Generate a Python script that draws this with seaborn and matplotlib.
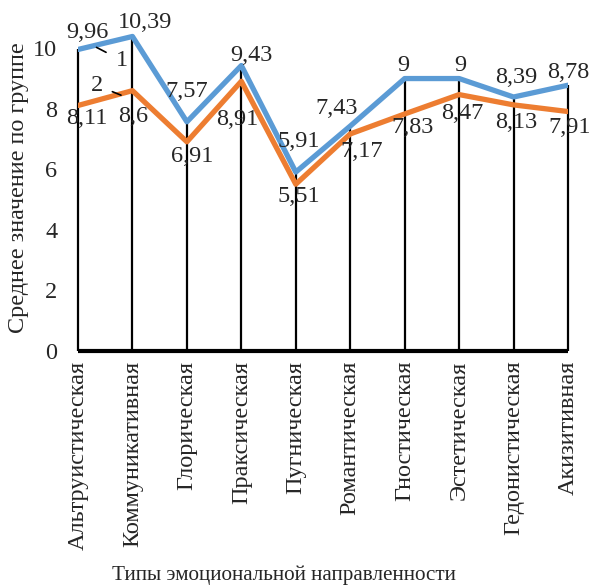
import numpy as np
import pandas as pd
import seaborn as sns
import matplotlib
matplotlib.use("Agg")
import matplotlib.pyplot as plt

# data
categories = ["Альтруистическая", "Коммуникативная", "Глорическая", "Праксическая",
              "Пугническая", "Романтическая", "Гностическая", "Эстетическая",
              "Гедонистическая", "Акизитивная"]
group1 = [9.96, 10.39, 7.57, 9.43, 5.91, 7.43, 9, 9, 8.39, 8.78]
group2 = [8.11, 8.6, 6.91, 8.91, 5.51, 7.17, 7.83, 8.47, 8.13, 7.91]

# label offsets in pixels (placement only)
off1 = [(9, 17), (13, 14), (0, 30), (10, 10), (3, 31), (-14, 18), (-1, 13), (1, 13), (3, 20), (0, 13)]
off2 = [(9, -13), (1, -26), (5, -15), (-4, -38), (3, -12), (11, -18), (8, -14), (3, -19), (3, -18), (2, -16)]

sns.set_style("white")
plt.rcParams['font.family'] = ['Liberation Serif', 'DejaVu Serif']

df = pd.DataFrame({"pos": np.arange(len(categories)), "g1": group1, "g2": group2})

fig = plt.figure(figsize=(5.92, 5.86), dpi=100)
ax = fig.add_axes([78 / 592, (586 - 351) / 586, 490 / 592, 333 / 586])

# drop lines from the higher series down to zero
ax.vlines(df["pos"], 0, df[["g1", "g2"]].max(axis=1), color="black", lw=1.6,
          zorder=1, clip_on=False)

sns.lineplot(data=df, x="pos", y="g2", color="#ED7D31", lw=3.8, ax=ax, zorder=2)
sns.lineplot(data=df, x="pos", y="g1", color="#5B9BD5", lw=3.8, ax=ax, zorder=3)

ax.plot([0, len(categories) - 1], [0, 0], color="black", lw=3, clip_on=False,
        solid_capstyle="butt", zorder=4)

def fmt(v):
    return ("%g" % v).replace(".", ",")

lab_fs = 17.5
for i, v in enumerate(group1):
    ax.annotate(fmt(v), (i, v), xytext=off1[i], textcoords="offset pixels",
                ha="center", va="center", fontsize=lab_fs, annotation_clip=False)
for i, v in enumerate(group2):
    ax.annotate(fmt(v), (i, v), xytext=off2[i], textcoords="offset pixels",
                ha="center", va="center", fontsize=lab_fs, annotation_clip=False)

# series markers "1" and "2" with leader lines
ax.annotate("1", xy=(0.34, 10.03), xytext=(0.8, 9.6), ha="center", va="center", fontsize=lab_fs,
            arrowprops=dict(arrowstyle="-", color="black", lw=1.2, shrinkA=5, shrinkB=0))
ax.annotate("2", xy=(0.79, 8.45), xytext=(0.34, 8.78), ha="center", va="center", fontsize=lab_fs,
            arrowprops=dict(arrowstyle="-", color="black", lw=1.2, shrinkA=5, shrinkB=0))

ax.set_xlim(0, len(categories) - 1)
ax.set_ylim(0, 11)
ax.set_yticks([0, 2, 4, 6, 8, 10])
ax.set_xticks(range(len(categories)))
ax.set_xticklabels(categories, rotation=90)
ax.tick_params(axis="both", length=0, labelsize=17.5)
ax.tick_params(axis="y", pad=15)
ax.tick_params(axis="x", pad=7)
for s in ax.spines.values():
    s.set_visible(False)

ax.set_xlabel("Типы эмоциональной направленности", fontsize=15.2)
ax.set_ylabel("Среднее значение по группе", fontsize=17.4)
ax.xaxis.set_label_coords(0.42, -0.645)
ax.yaxis.set_label_coords(-0.1, 0.491)

fig.savefig("out.png", dpi=100)
